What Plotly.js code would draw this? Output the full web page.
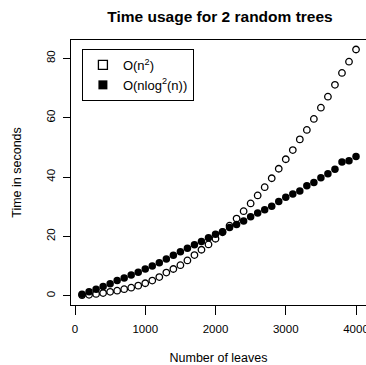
<!DOCTYPE html>
<html>
<head>
<meta charset="utf-8">
<script src="https://cdn.plot.ly/plotly-3.0.1.min.js"></script>
<style>html,body{margin:0;padding:0;background:#fff;}#chart{width:366px;height:365px;}</style>
</head>
<body>
<div id="chart"></div>
<script>
var leaves = [100,200,300,400,500,600,700,800,900,1000,1100,1200,1300,1400,1500,1600,1700,1800,1900,2000,
              2100,2200,2300,2400,2500,2600,2700,2800,2900,3000,3100,3200,3300,3400,3500,3600,3700,3800,3900,4000];
var timeN2 = [0.2,0.3,0.6,0.9,1.3,1.7,2.2,2.7,3.4,4.2,5.1,6.3,7.8,9.0,10.3,11.9,13.7,15.5,17.3,19.2,
              21.4,23.6,26.0,28.5,31.1,33.8,36.6,39.6,42.8,46.0,49.1,52.7,55.9,59.6,63.4,67.1,71.1,75.1,78.9,83.0];
var timeNlog2 = [0.5,1.3,2.2,3.1,4.0,5.1,6.0,7.0,7.9,9.0,10.0,11.1,12.4,13.6,14.8,16.0,17.2,18.3,19.5,20.7,
                 21.6,23.0,24.0,25.2,26.6,27.9,29.0,30.2,31.8,33.2,34.3,35.3,37.1,38.2,39.8,41.1,42.6,45.1,45.5,46.9];
var seriesNames = ["O(n<sup>2</sup>)", "O(nlog<sup>2</sup>(n))"];
var xTicks = [0,1000,2000,3000,4000];
var yTicks = [0,20,40,60,80];

var font = "Liberation Sans, Arial, Helvetica, sans-serif";

var traces = [
  {x: leaves, y: timeN2, type: "scatter", mode: "markers", showlegend: false, hoverinfo: "skip",
   marker: {symbol: "circle-open", size: 6.5, color: "#000", line: {width: 1.3, color: "#000"}}},
  {x: leaves, y: timeNlog2, type: "scatter", mode: "markers", showlegend: false, hoverinfo: "skip",
   marker: {symbol: "circle", size: 7.5, color: "#000", line: {width: 0}}},
  {x: [null], y: [null], type: "scatter", mode: "markers", name: seriesNames[0],
   marker: {symbol: "square-open", size: 9, color: "#000", line: {width: 1.3, color: "#000"}}},
  {x: [null], y: [null], type: "scatter", mode: "markers", name: seriesNames[1],
   marker: {symbol: "square", size: 9, color: "#000", line: {width: 0}}}
];

var layout = {
  width: 366, height: 365,
  margin: {l: 71, r: 0, t: 40, b: 60, pad: 0},
  paper_bgcolor: "#fff", plot_bgcolor: "#fff",
  font: {family: font, size: 11.5, color: "#000"},
  title: {text: "<b>Time usage for 2 random trees</b>", font: {family: font, size: 15.5, color: "#000"},
          x: 220/366, xref: "container", xanchor: "center", y: 1 - 16.7/365, yref: "container", yanchor: "middle"},
  xaxis: {range: [-57, 4142], tickvals: xTicks, ticktext: xTicks.map(String),
          showgrid: false, zeroline: false, showline: true, linecolor: "#000", linewidth: 1, mirror: true,
          ticks: "outside", ticklen: 9, tickwidth: 1, tickcolor: "#000",
          ticklabeloverflow: "allow", ticklabelstandoff: 4,
          tickfont: {family: font, size: 11.5, color: "#000"},
          title: {text: "Number of leaves", font: {family: font, size: 12.5, color: "#000"}, standoff: 31}},
  yaxis: {range: [-3.13, 86.2], tickvals: yTicks, ticktext: yTicks.map(String), tickangle: -90,
          showgrid: false, zeroline: false, showline: true, linecolor: "#000", linewidth: 1, mirror: false,
          ticks: "outside", ticklen: 7, tickwidth: 1, tickcolor: "#000",
          ticklabeloverflow: "allow", ticklabelstandoff: 3,
          tickfont: {family: font, size: 11.5, color: "#000"},
          title: {text: "Time in seconds", font: {family: font, size: 12.5, color: "#000"}, standoff: 21}},
  legend: {x: 0.037, y: 0.966, xanchor: "left", yanchor: "top", xref: "paper", yref: "paper",
           bgcolor: "#fff", bordercolor: "#000", borderwidth: 1,
           font: {family: font, size: 13, color: "#000"}, itemwidth: 30, tracegroupgap: 0}
};

Plotly.newPlot("chart", traces, layout, {staticPlot: true, displayModeBar: false});
</script>
</body>
</html>
